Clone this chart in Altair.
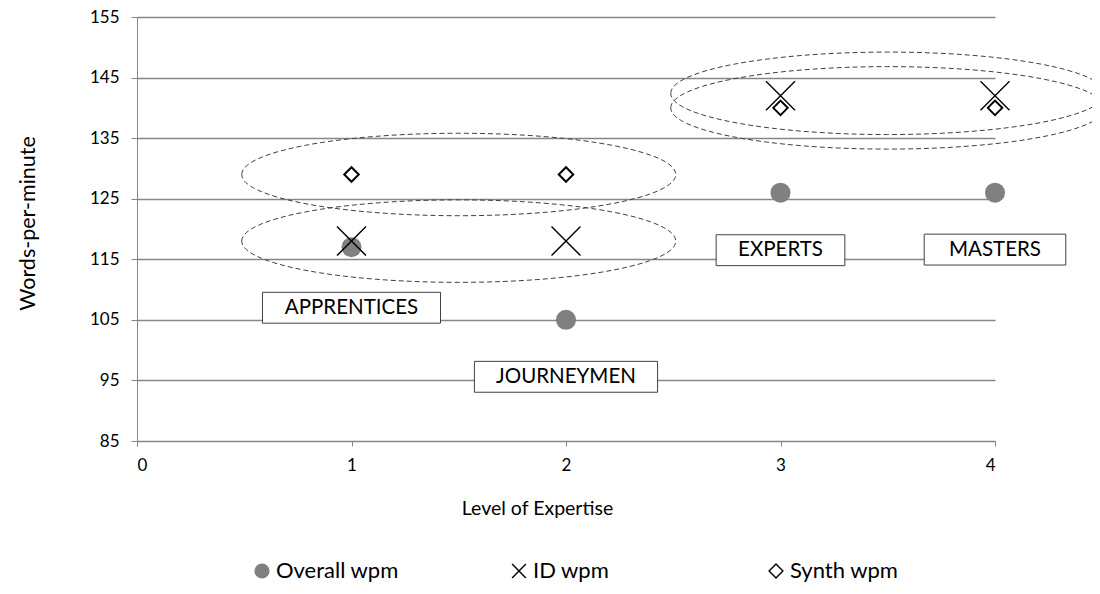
import altair as alt
import pandas as pd

# ---- data ----
level = [1, 2, 3, 4]
overall_wpm = [117, 105, 126, 126]
id_wpm = [118, 118, 142, 142]
synth_wpm = [129, 129, 140, 140]
series_names = ["Overall wpm", "ID wpm", "Synth wpm"]
x_ticks = [0, 1, 2, 3, 4]
y_ticks = [85, 95, 105, 115, 125, 135, 145, 155]

# annotations (group labels in boxes, dashed ellipses)
group_labels = ["APPRENTICES", "JOURNEYMEN", "EXPERTS", "MASTERS"]
label_x = [1, 2, 3, 4]
label_y = [107.0, 95.6, 116.5, 116.6]
label_halfw = [0.415, 0.427, 0.30, 0.33]
label_halfh = 2.55
ellipse_x = [1.5, 1.5, 3.5, 3.5]
ellipse_y = [129, 118, 142.4, 140]

FONT = "Lato"
GRID = "#868686"
X_SHAPE = "M-1,-1L1,1M-1,1L1,-1"
ELLIPSE = ("M-1,0C-1,-0.105,-0.5523,-0.19,0,-0.19C0.5523,-0.19,1,-0.105,1,0"
           "C1,0.105,0.5523,0.19,0,0.19C-0.5523,0.19,-1,0.105,-1,0Z")

rows = []
for name, vals in zip(series_names, [overall_wpm, id_wpm, synth_wpm]):
    for lv, v in zip(level, vals):
        rows.append({"x": lv, "y": v, "series": name})
pts = pd.DataFrame(rows)

labels_df = pd.DataFrame({"label": group_labels, "x": label_x, "y": label_y, "hw": label_halfw})
ell_df = pd.DataFrame({"x": ellipse_x, "y": ellipse_y})

x_scale = alt.Scale(domain=[0, 4], nice=False)
y_scale = alt.Scale(domain=[85, 155], nice=False, zero=False)
x_axis = alt.Axis(values=x_ticks, grid=False, title="Level of Expertise",
                  domainColor=GRID, tickColor=GRID, tickSize=5,
                  labelFont=FONT, labelFontSize=17, labelColor="#000000",
                  labelPadding=11, titleFont=FONT, titleFontSize=19.5,
                  titleFontWeight="normal", titleColor="#000000", titlePadding=26,
                  titleX=400)
y_axis = alt.Axis(values=y_ticks, grid=True, gridColor=GRID, gridWidth=1.3,
                  title="Words-per-minute", domainColor=GRID, tickColor=GRID,
                  tickSize=6, labelFont=FONT, labelFontSize=17, labelColor="#000000",
                  labelPadding=12, titleFont=FONT, titleFontSize=21.5,
                  titleFontWeight="normal", titleColor="#000000", titlePadding=50,
                  titleY=206)
x_enc = alt.X("x:Q", scale=x_scale, axis=x_axis)
y_enc = alt.Y("y:Q", scale=y_scale, axis=y_axis)

legend = alt.Legend(title=None, orient="none", legendX=114, legendY=543,
                    direction="horizontal", columns=3, gridAlign="all",
                    columnPadding=109, labelFont=FONT, labelFontSize=22,
                    labelOffset=3, labelColor="#000000", symbolSize=190,
                    symbolStrokeWidth=1.4)

shape_enc = alt.Shape("series:N", scale=alt.Scale(domain=series_names,
                      range=["circle", X_SHAPE, "diamond"]), legend=legend)
fill_enc = alt.Fill("series:N", scale=alt.Scale(domain=series_names,
                    range=["#808080", "transparent", "#ffffff"]), legend=legend)
stroke_enc = alt.Stroke("series:N", scale=alt.Scale(domain=series_names,
                        range=["#808080", "#000000", "#000000"]), legend=legend)

ellipses = alt.Chart(ell_df).mark_point(
    shape=ELLIPSE, size=434 * 434, stroke="#404040", strokeWidth=1,
    strokeDash=[5, 3], filled=False, opacity=1
).encode(x=x_enc, y=y_enc)

def series_layer(name, size, sw):
    return alt.Chart(pts).transform_filter(alt.datum.series == name).mark_point(
        size=size, strokeWidth=sw, opacity=1
    ).encode(x=x_enc, y=y_enc, shape=shape_enc, fill=fill_enc, stroke=stroke_enc)

overall = series_layer("Overall wpm", 400, 0)
idl = series_layer("ID wpm", 841, 1.4)
synth = series_layer("Synth wpm", 210, 2)

boxes = alt.Chart(labels_df).transform_calculate(
    x1="datum.x - datum.hw", x2="datum.x + datum.hw",
    y1=f"datum.y - {label_halfh}", y2=f"datum.y + {label_halfh}"
).mark_rect(fill="#ffffff", stroke="#404040", strokeWidth=1).encode(
    x=alt.X("x1:Q", scale=x_scale, axis=x_axis),
    x2="x2:Q",
    y=alt.Y("y1:Q", scale=y_scale, axis=y_axis),
    y2="y2:Q",
)
texts = alt.Chart(labels_df).mark_text(font=FONT, fontSize=20.5, color="#000000").encode(
    x=x_enc, y=y_enc, text="label:N")

chart = alt.layer(ellipses, boxes, texts, overall, idl, synth).properties(
    width=858, height=424,
    autosize=alt.AutoSizeParams(type="none"),
    padding={"left": 129, "top": 9, "right": 97, "bottom": 145},
    background="#ffffff",
).configure_view(stroke=None)

chart.save("out.html", embed_options={"renderer": "svg", "actions": False})
